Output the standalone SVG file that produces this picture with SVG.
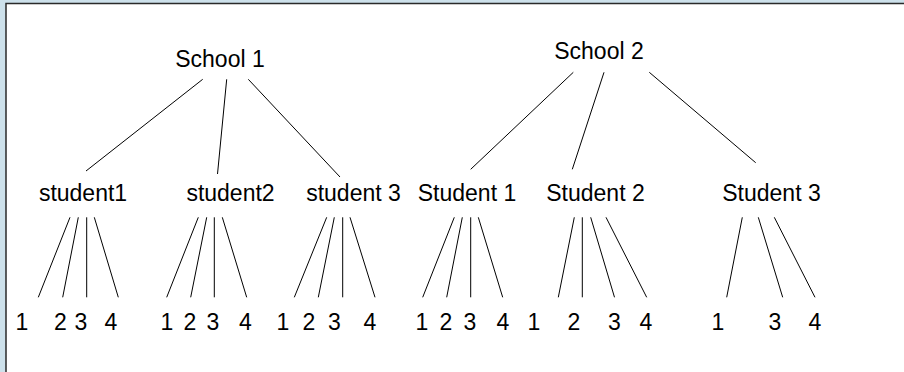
<svg xmlns="http://www.w3.org/2000/svg" width="904" height="372" viewBox="0 0 904 372">
<style>
text{font-family:"Liberation Sans",Arial,sans-serif;font-size:23px;fill:#000;text-anchor:middle}
.c line{stroke:#000;stroke-width:1}
</style>
<rect x="0" y="0" width="904" height="372" fill="#cde1eb"/>
<rect x="6" y="3.5" width="900" height="370" fill="#ffffff" stroke="#2a2a2a" stroke-width="1.5"/>
<g id="school1"><text x="220" y="67">School 1</text></g>
<g id="school2"><text x="599" y="59">School 2</text></g>
<g id="s1_student1"><text x="83" y="201">student1</text></g>
<g id="s1_student2"><text x="230.5" y="201">student2</text></g>
<g id="s1_student3"><text x="353.5" y="201">student 3</text></g>
<g id="s2_student1"><text x="467" y="201">Student 1</text></g>
<g id="s2_student2"><text x="595.5" y="201">Student 2</text></g>
<g id="s2_student3"><text x="771.5" y="201">Student 3</text></g>
<g id="g1_items"><text x="22" y="330">1</text><text x="60.5" y="330">2</text><text x="81" y="330">3</text><text x="111" y="330">4</text></g>
<g id="g2_items"><text x="167" y="330">1</text><text x="190" y="330">2</text><text x="213" y="330">3</text><text x="245.5" y="330">4</text></g>
<g id="g3_items"><text x="283" y="330">1</text><text x="309" y="330">2</text><text x="334.5" y="330">3</text><text x="370" y="330">4</text></g>
<g id="g4_items"><text x="422" y="330">1</text><text x="446" y="330">2</text><text x="470" y="330">3</text><text x="503" y="330">4</text></g>
<g id="g5_items"><text x="534" y="330">1</text><text x="574" y="330">2</text><text x="614.5" y="330">3</text><text x="646" y="330">4</text></g>
<g id="g6_items"><text x="718" y="330">1</text><text x="775" y="330">3</text><text x="815" y="330">4</text></g>
<g id="connectors" class="c">
<line x1="202.7" y1="79.3" x2="86" y2="171"/>
<line x1="226.7" y1="79.3" x2="217.5" y2="174"/>
<line x1="248.3" y1="79.3" x2="340" y2="177"/>
<line x1="573.3" y1="72.3" x2="470.7" y2="169.3"/>
<line x1="604" y1="72.3" x2="572.3" y2="169.3"/>
<line x1="649.3" y1="72.3" x2="755.7" y2="162.7"/>
<line x1="70" y1="217.3" x2="38.3" y2="297.3"/>
<line x1="78.3" y1="217.3" x2="62.7" y2="297.3"/>
<line x1="86.7" y1="217.3" x2="86.7" y2="297.3"/>
<line x1="94.3" y1="217.3" x2="118.3" y2="297.3"/>
<line x1="198.3" y1="217.3" x2="166.7" y2="297.3"/>
<line x1="206.7" y1="217.3" x2="190.7" y2="297.3"/>
<line x1="214.3" y1="217.3" x2="214.3" y2="297.3"/>
<line x1="222.3" y1="217.3" x2="246.7" y2="297.3"/>
<line x1="326.7" y1="217.3" x2="294.3" y2="297.3"/>
<line x1="334.3" y1="217.3" x2="318.3" y2="297.3"/>
<line x1="342.7" y1="217.3" x2="342.7" y2="297.3"/>
<line x1="350" y1="217.3" x2="375" y2="297.3"/>
<line x1="454.3" y1="217.3" x2="422.7" y2="297.3"/>
<line x1="462.3" y1="217.3" x2="446.7" y2="297.3"/>
<line x1="470.7" y1="217.3" x2="470.7" y2="297.3"/>
<line x1="478.3" y1="217.3" x2="502.7" y2="297.3"/>
<line x1="574.3" y1="217.3" x2="558.3" y2="297.3"/>
<line x1="582.3" y1="217.3" x2="582.3" y2="297.3"/>
<line x1="590.7" y1="217.3" x2="614.5" y2="297.3"/>
<line x1="606" y1="217.3" x2="646.7" y2="297.3"/>
<line x1="742.3" y1="217.3" x2="726.7" y2="297.3"/>
<line x1="758.3" y1="217.3" x2="782.7" y2="297.3"/>
<line x1="774.3" y1="217.3" x2="815" y2="297.3"/>
</g>
</svg>
